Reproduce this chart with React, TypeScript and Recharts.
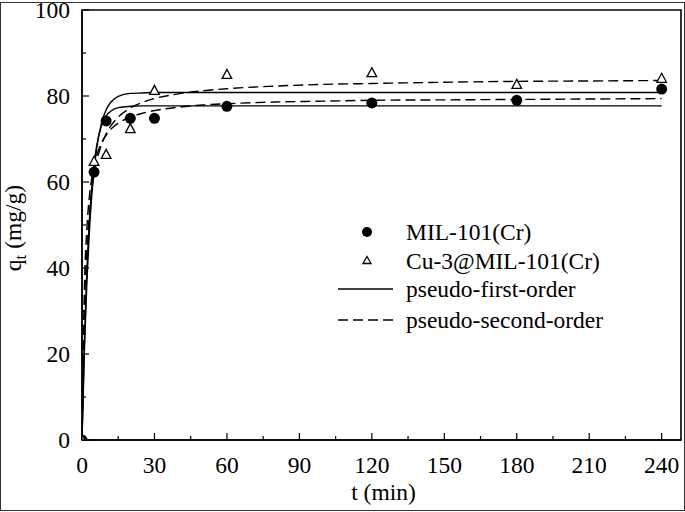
import React from "react";
import {
  ComposedChart,
  Line,
  Scatter,
  XAxis,
  YAxis,
  Legend,
  ReferenceArea,
} from "recharts";

const FONT = "Liberation Serif, DejaVu Serif, serif";
const textStyle = { fontFamily: FONT, fontSize: 23.5 };

// experimental points
const sampleTimes = [0, 5, 10, 20, 30, 60, 120, 180, 240];
const milQ = [0, 62.3, 74.2, 74.8, 74.8, 77.6, 78.4, 79.0, 81.6];
const cuQ = [0, 64.7, 66.3, 72.3, 81.2, 84.9, 85.3, 82.6, 84.0];

// fitted curves
const curveTimes = [0, 1, 2, 3, 4, 5, 6, 8, 10, 12, 15, 20, 25, 30, 40, 50, 60, 80, 100, 120, 150, 180, 210, 240];
const pfoUpper = [0, 20.9, 36.4, 47.9, 56.5, 62.8, 67.5, 73.5, 76.8, 78.6, 79.9, 80.6, 80.7, 80.8, 80.8, 80.8, 80.8, 80.8, 80.8, 80.8, 80.8, 80.8, 80.8, 80.8];
const pfoLower = [0, 22.9, 39.1, 50.5, 58.5, 64.2, 68.2, 73.0, 75.4, 76.5, 77.3, 77.6, 77.7, 77.7, 77.7, 77.7, 77.7, 77.7, 77.7, 77.7, 77.7, 77.7, 77.7, 77.7];
const psoUpper = [0, 29.9, 44.1, 52.4, 57.9, 61.7, 64.6, 68.6, 71.2, 73.1, 75.1, 77.2, 78.5, 79.4, 80.5, 81.2, 81.7, 82.3, 82.7, 82.9, 83.2, 83.4, 83.5, 83.6];
const psoLower = [0, 35.5, 49.1, 56.3, 60.8, 63.8, 66.0, 69.0, 70.9, 72.3, 73.7, 75.1, 76.0, 76.6, 77.4, 77.9, 78.2, 78.6, 78.8, 79.0, 79.1, 79.2, 79.3, 79.4];

const xTicks = [0, 15, 30, 45, 60, 75, 90, 105, 120, 135, 150, 165, 180, 195, 210, 225, 240];
const yTicks = [0, 10, 20, 30, 40, 50, 60, 70, 80, 90, 100];

const toPoints = (ts: number[], qs: number[]) => ts.map((t, i) => ({ t, q: qs[i] }));

const XTick = (props: any) => {
  const { x, y, payload } = props;
  const major = payload.value % 30 === 0;
  return (
    <g>
      <line x1={x} x2={x} y1={y} y2={y - (major ? 7 : 4)} stroke="#000" strokeWidth={1.2} />
      {major && (
        <text x={x} y={y + 33} textAnchor="middle" style={textStyle} fill="#000">
          {payload.value}
        </text>
      )}
    </g>
  );
};

const YTick = (props: any) => {
  const { x, y, payload } = props;
  const major = payload.value % 20 === 0;
  return (
    <g>
      <line x1={x} x2={x + (major ? 7 : 4)} y1={y} y2={y} stroke="#000" strokeWidth={1.2} />
      {major && (
        <text x={x - 12} y={y + 7.5} textAnchor="end" style={textStyle} fill="#000">
          {payload.value}
        </text>
      )}
    </g>
  );
};

const Circle = (props: any) => <circle cx={props.cx} cy={props.cy} r={5.5} fill="#000" />;

const Triangle = (props: any) => {
  const { cx, cy } = props;
  return (
    <polygon
      points={`${cx},${cy - 5.5} ${cx - 4.8},${cy + 3.5} ${cx + 4.8},${cy + 3.5}`}
      fill="#fff"
      stroke="#000"
      strokeWidth={1.3}
    />
  );
};

const renderLegend = () => (
  <svg width={300} height={125} style={{ display: "block" }}>
    <circle cx={37} cy={17} r={5} fill="#000" />
    <polygon points="37,41.5 33,48.5 41,48.5" fill="#fff" stroke="#000" strokeWidth={1.3} />
    <line x1={8} x2={63} y1={74} y2={74} stroke="#000" strokeWidth={1.4} />
    <line x1={8} x2={63} y1={105} y2={105} stroke="#000" strokeWidth={1.4} strokeDasharray="10 5" />
    <g style={textStyle} fill="#000">
      <text x={76} y={25}>MIL-101(Cr)</text>
      <text x={76} y={54}>Cu-3@MIL-101(Cr)</text>
      <text x={76} y={82}>pseudo-first-order</text>
      <text x={76} y={113}>pseudo-second-order</text>
    </g>
  </svg>
);

export default function App() {
  return (
    <div style={{ position: "absolute", left: 0, top: 0, width: 685, height: 512, background: "#fff" }}>
      <div
        style={{
          position: "absolute",
          left: 0,
          top: 2,
          width: 685,
          height: 509,
          border: "1.5px solid #333",
          boxSizing: "border-box",
          pointerEvents: "none",
        }}
      />
      <ComposedChart
        width={685}
        height={512}
        margin={{ top: 10, right: 4, bottom: 0, left: 0 }}
        style={{ position: "absolute", left: 0, top: 0 }}
      >
        <XAxis
          dataKey="t"
          type="number"
          domain={[0, 248]}
          ticks={xTicks}
          interval={0}
          height={72}
          tickSize={0}
          tickMargin={0}
          tickLine={false}
          tick={<XTick />}
          axisLine={{ stroke: "#000", strokeWidth: 1.4 }}
          allowDataOverflow
          label={(p: any) => {
            const vb = p.viewBox;
            return (
              <text x={vb.x + vb.width / 2 + 2} y={vb.y + 60} textAnchor="middle" style={textStyle} fill="#000">
                t (min)
              </text>
            );
          }}
        />
        <YAxis
          type="number"
          domain={[0, 100]}
          ticks={yTicks}
          interval={0}
          width={82}
          tickSize={0}
          tickMargin={0}
          tickLine={false}
          tick={<YTick />}
          axisLine={{ stroke: "#000", strokeWidth: 1.4 }}
          allowDataOverflow
          label={() => (
            <text transform="translate(21,228) rotate(-90)" textAnchor="middle" style={textStyle} fill="#000">
              q
              <tspan style={{ fontSize: 17 }} dy={5}>t</tspan>
              <tspan dy={-5}> (mg/g)</tspan>
            </text>
          )}
        />
        <ReferenceArea x1={0} x2={248} y1={0} y2={100} fill="none" stroke="#000" strokeWidth={1.6} />
        <Line data={toPoints(curveTimes, pfoUpper)} dataKey="q" type="monotone" dot={false} stroke="#000" strokeWidth={1.4} isAnimationActive={false} />
        <Line data={toPoints(curveTimes, pfoLower)} dataKey="q" type="monotone" dot={false} stroke="#000" strokeWidth={1.4} isAnimationActive={false} />
        <Line data={toPoints(curveTimes, psoUpper)} dataKey="q" type="monotone" dot={false} stroke="#000" strokeWidth={1.4} strokeDasharray="10 5" isAnimationActive={false} />
        <Line data={toPoints(curveTimes, psoLower)} dataKey="q" type="monotone" dot={false} stroke="#000" strokeWidth={1.4} strokeDasharray="10 5" isAnimationActive={false} />
        <Scatter data={toPoints(sampleTimes, milQ)} dataKey="q" shape={<Circle />} isAnimationActive={false} />
        <Scatter data={toPoints(sampleTimes, cuQ)} dataKey="q" shape={<Triangle />} isAnimationActive={false} />
        <Legend
          layout="vertical"
          align="center"
          verticalAlign="middle"
          content={renderLegend}
          wrapperStyle={{ left: 330, top: 215, width: 300, height: 125 }}
        />
      </ComposedChart>
    </div>
  );
}
